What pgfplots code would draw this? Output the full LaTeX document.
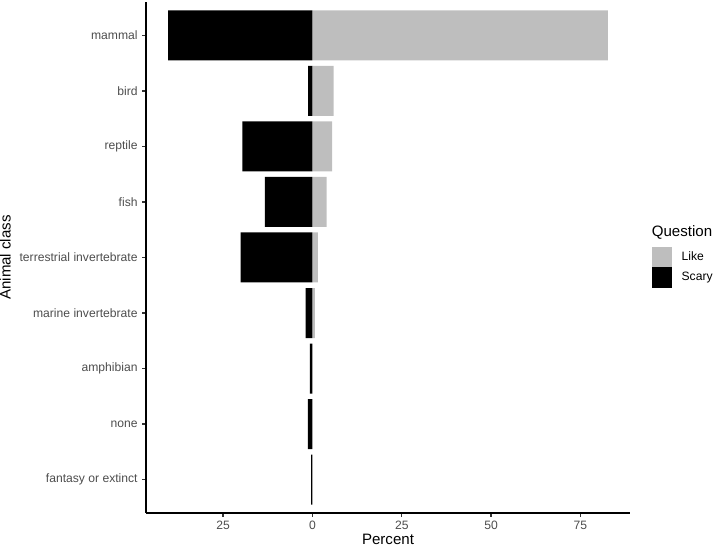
\documentclass[border=0pt]{standalone}
\usepackage{pgfplots}
\pgfplotsset{compat=1.18}
\usetikzlibrary{calc}
\usepackage{fontspec}
\setmainfont{Liberation Sans}
\definecolor{likegrey}{HTML}{BEBEBE}
\definecolor{ticktext}{HTML}{4D4D4D}
\definecolor{tickcol}{HTML}{333333}
\begin{document}
\begin{tikzpicture}
\begin{axis}[
  name=ax,
  scale only axis,
  width=363pt, height=383.25pt,
  xmin=-46.6, xmax=88.9,
  ymin=-0.6, ymax=8.6,
  xbar, bar shift=0pt, bar width=0.9,
  axis x line*=bottom, axis y line*=left,
  axis line style={line width=1.07pt, -},
  every tick/.style={line width=1.07pt, tickcol},
  tick align=outside, major tick length=2.75pt,
  xtick={-25,0,25,50,75},
  xticklabels={25,0,25,50,75},
  ytick={0,1,2,3,4,5,6,7,8},
  yticklabels={fantasy or extinct,none,amphibian,marine invertebrate,terrestrial invertebrate,fish,reptile,bird,mammal},
  tick label style={font=\fontsize{9.1}{10}\selectfont, text=ticktext},
  /pgf/number format/assume math mode=true,
  legend style={draw=none, fill=none, at={(1,1)}, anchor=north west, xshift=16.7pt, yshift=-183.5pt,
    inner sep=0pt, outer sep=0pt, row sep=0pt, column sep=7pt,
    nodes={inner sep=0pt, anchor=west},
    font=\fontsize{9.1}{10}\selectfont},
  legend cell align=left,
  legend image code/.code={\fill[#1] (0pt,-7.75pt) rectangle (15pt,7.75pt);},
  clip=false,
]
\addplot[fill=likegrey, draw=none] coordinates {
  (82.7,8) (5.9,7) (5.5,6) (4.0,5) (1.5,4) (0.7,3)
};
\addlegendentry{Like}
\addplot[fill=black, draw=none] coordinates {
  (-40.4,8) (-1.2,7) (-19.6,6) (-13.3,5) (-20.1,4) (-1.9,3) (-0.7,2) (-1.3,1) (-0.4,0)
};
\addlegendentry{Scary}
\end{axis}
\node[anchor=base, inner sep=0pt, font=\fontsize{11.3}{13}\selectfont] at ([yshift=-24pt]$(ax.south west)!0.5!(ax.south east)$) {Percent};
\node[anchor=base, rotate=90, inner sep=0pt, font=\fontsize{11.3}{13}\selectfont] at ([xshift=-101.6pt]$(ax.south west)!0.5!(ax.north west)$) {Animal class};
\node[anchor=base west, inner sep=0pt, font=\fontsize{11.3}{13}\selectfont] at ([xshift=16.2pt, yshift=-176pt]ax.north east) {Question};
\pgfresetboundingbox
\path ([xshift=-109.5pt,yshift=-26.25pt]ax.south west) rectangle ([xshift=63pt,yshift=1.5pt]ax.north east);
\end{tikzpicture}
\end{document}
